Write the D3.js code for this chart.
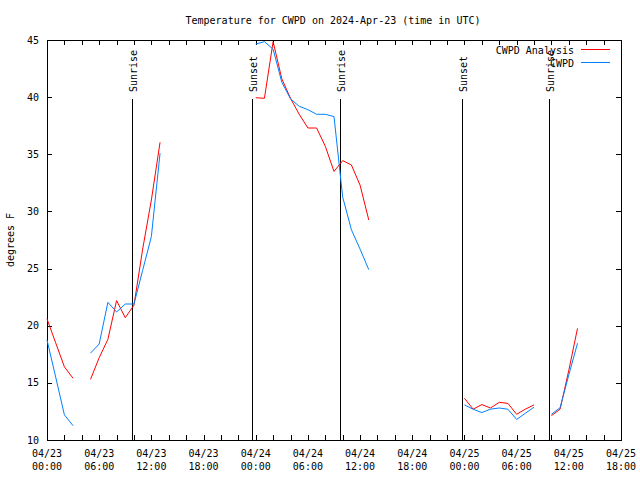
<!DOCTYPE html>
<html>
<head>
<meta charset="utf-8">
<script src="https://cdn.jsdelivr.net/npm/d3@7"></script>
<style>
html,body{margin:0;padding:0;background:#fff;}
svg text{font-family:"DejaVu Sans Mono","Liberation Mono",monospace;font-size:10px;fill:#000;}
</style>
</head>
<body>
<svg id="chart" width="640" height="480"></svg>
<script>
// ---- data (hours since 2024-04-23 00:00 UTC) ----
const hours = d3.range(0, 62);
const analysisValues = [
  20.6, 18.5, 16.4, 15.4, null, 15.3, 17.2, 18.8, 22.2, 20.7,
  21.8, 26.7, 31.0, 36.05, null, null, null, null, null, null,
  null, null, null, null, 39.95, 39.9, 44.85, 41.6, 39.9, 38.5,
  37.3, 37.3, 35.7, 33.5, 34.45, 34.06, 32.3, 29.25, null, null,
  null, null, null, null, null, null, null, null, 13.65, 12.7,
  13.1, 12.8, 13.3, 13.2, 12.25, 12.7, 13.07, null, 12.13, 12.7,
  16.1, 19.77
];
const obsValues = [
  18.75, 15.5, 12.2, 11.25, null, 17.6, 18.4, 22.05, 21.2, 21.9,
  21.9, 24.85, 27.8, 35.1, null, null, null, null, null, null,
  null, null, null, null, 44.65, 44.85, 44.2, 41.3, 39.85, 39.2,
  38.9, 38.5, 38.5, 38.3, 31.25, 28.4, 26.7, 24.9, null, null,
  null, null, null, null, null, null, null, null, 13.07, 12.69,
  12.4, 12.7, 12.8, 12.69, 11.8, 12.34, 12.87, null, 12.25, 12.83,
  15.7, 18.46
];
const seriesNames = ["CWPD Analysis", "CWPD"];
const sunEventHours = [9.72, 23.62, 33.7, 47.72, 57.7];
const sunEventLabels = ["Sunrise", "Sunset", "Sunrise", "Sunset", "Sunrise"];
const xTickHours = d3.range(0, 67, 6);
const xTickDates = ["04/23","04/23","04/23","04/23","04/24","04/24","04/24","04/24","04/25","04/25","04/25","04/25"];
const xTickTimes = ["00:00","06:00","12:00","18:00","00:00","06:00","12:00","18:00","00:00","06:00","12:00","18:00"];
const yTicks = [10, 15, 20, 25, 30, 35, 40, 45];
const titleText = "Temperature for CWPD on 2024-Apr-23 (time in UTC)";
const yLabelText = "degrees F";

// ---- layout ----
const svg = d3.select("#chart");
const L = 47, R = 621, T = 40, B = 440;
const x = d3.scaleLinear().domain([0, 66]).range([L, R]);
const y = d3.scaleLinear().domain([10, 45]).range([B, T]);
const colors = ["#ff0000", "#0080ff"];

// title
svg.append("text").attr("x", 333).attr("y", 24)
  .attr("text-anchor", "middle").text(titleText);
// y label
svg.append("text").attr("transform", "translate(14,240) rotate(-90)")
  .attr("text-anchor", "middle").text(yLabelText);

// axes
const minorHours = d3.range(0, 67, 2);
const gx = svg.append("g").attr("transform", `translate(0,${B})`)
  .call(d3.axisBottom(x).tickValues(minorHours).tickSize(-5).tickFormat(""));
const gxTop = svg.append("g").attr("transform", `translate(0,${T})`)
  .call(d3.axisTop(x).tickValues(minorHours).tickSize(-5).tickFormat(""));
const gy = svg.append("g").attr("transform", `translate(${L},0)`)
  .call(d3.axisLeft(y).tickValues(yTicks).tickSize(-5).tickFormat(""));
const gyR = svg.append("g").attr("transform", `translate(${R},0)`)
  .call(d3.axisRight(y).tickValues(yTicks).tickSize(-5).tickFormat(""));
[gx, gxTop, gy, gyR].forEach(g => {
  g.select(".domain").remove();
  g.selectAll("line").attr("stroke", "#000").attr("shape-rendering", "crispEdges");
});
svg.append("rect").attr("x", L).attr("y", T).attr("width", R - L).attr("height", B - T)
  .attr("fill", "none").attr("stroke", "#000").attr("shape-rendering", "crispEdges");

// x tick labels
xTickHours.forEach((h, i) => {
  svg.append("text").attr("x", x(h)).attr("y", B + 17).attr("text-anchor", "middle").text(xTickDates[i]);
  svg.append("text").attr("x", x(h)).attr("y", B + 30).attr("text-anchor", "middle").text(xTickTimes[i]);
});
// y tick labels
yTicks.forEach(v => {
  svg.append("text").attr("x", L - 8).attr("y", y(v)).attr("dy", "0.35em")
    .attr("text-anchor", "end").text(v);
});

// sunrise / sunset markers
sunEventHours.forEach((h, i) => {
  const xx = Math.round(x(h)) + 0.5;
  svg.append("line").attr("x1", xx).attr("x2", xx).attr("y1", T + 59).attr("y2", B)
    .attr("stroke", "#000").attr("stroke-width", 1);
  svg.append("text").attr("transform", `translate(${xx + 4},${T + 52}) rotate(-90)`)
    .attr("text-anchor", "start").text(sunEventLabels[i]);
});

// series
const line = d3.line().defined(d => d[1] != null).x(d => x(d[0])).y(d => y(d[1]));
[analysisValues, obsValues].forEach((vals, si) => {
  const pts = hours.map((h, i) => [h, vals[i]]);
  svg.append("path").datum(pts).attr("d", line)
    .attr("fill", "none").attr("stroke", colors[si]).attr("stroke-width", 1);
});

// legend
seriesNames.forEach((name, i) => {
  const ly = 50 + i * 13;
  svg.append("text").attr("x", 574).attr("y", ly).attr("dy", "0.35em")
    .attr("text-anchor", "end").text(name);
  svg.append("line").attr("x1", 581).attr("x2", 610).attr("y1", ly - 0.5).attr("y2", ly - 0.5)
    .attr("stroke", colors[i]).attr("stroke-width", 1);
});
</script>
</body>
</html>
